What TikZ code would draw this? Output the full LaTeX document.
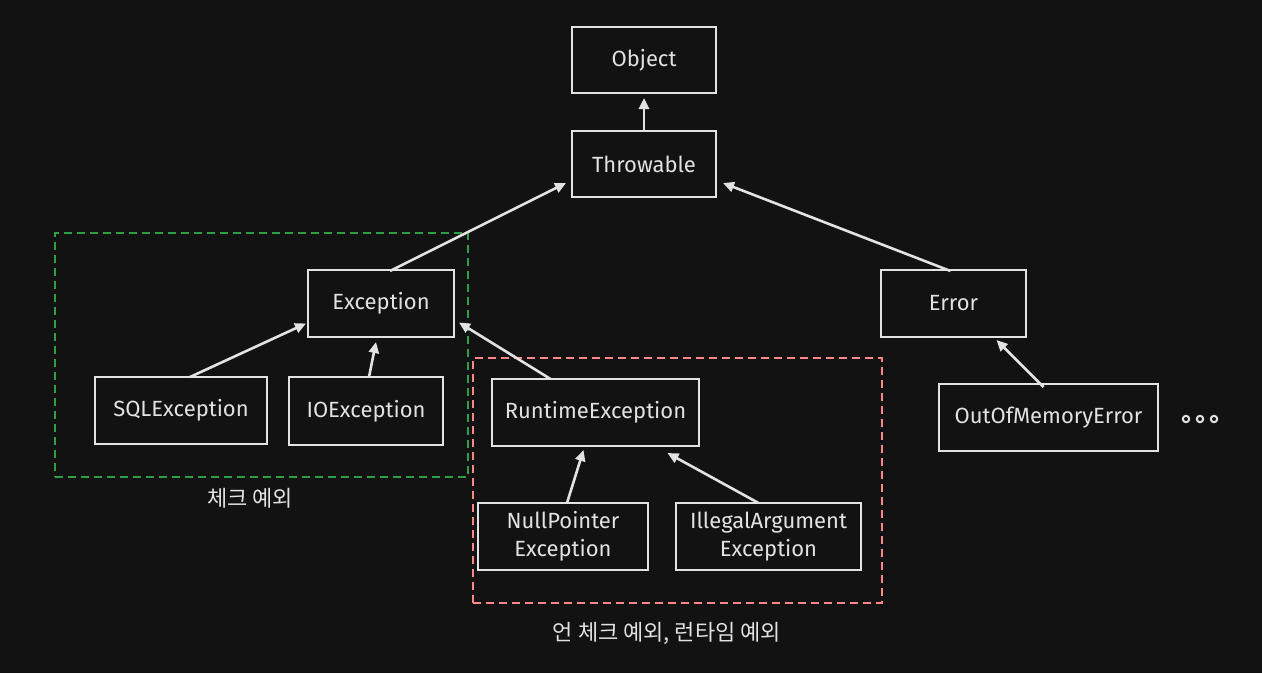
\documentclass[tikz,border=0pt]{standalone}
\usepackage{fontspec}
\setmainfont{Fira Sans}
\newfontfamily\kofont{Noto Sans CJK KR}
\usetikzlibrary{arrows.meta}
\definecolor{bg}{HTML}{121212}
\definecolor{ink}{HTML}{E2E2E2}
\definecolor{grn}{HTML}{2F9E44}
\definecolor{rd}{HTML}{FF8787}
\tikzset{
  cls/.style={draw=ink, line width=2pt, fill=bg, text=ink, font=\fontsize{22}{28}\selectfont, align=center, inner sep=0pt},
  inh/.style={draw=ink, line width=2.6pt, -{Triangle[length=11pt,width=10pt]}},
  grp/.style={line width=2pt, dash pattern=on 8pt off 5pt},
  lbl/.style={text=ink, font=\kofont\fontsize{22}{26}\selectfont, inner sep=0pt}
}
\begin{document}
\begin{tikzpicture}[x=1pt,y=-1pt]
\fill[bg] (0,0) rectangle (1262,673);
\useasboundingbox (0,0) rectangle (1262,673);
% groups
\node[draw=grn, grp, minimum width=413pt, minimum height=244pt, inner sep=0pt] (checked) at (261.5,355) {};
\node[draw=rd, grp, minimum width=409pt, minimum height=245pt, inner sep=0pt] (unchecked) at (677.5,480.5) {};
% classes
\node[cls, minimum width=144pt, minimum height=66pt] (obj) at (644,60) {Object};
\node[cls, minimum width=144pt, minimum height=66pt] (thr) at (644,164) {Throwable};
\node[cls, minimum width=146pt, minimum height=67pt] (exc) at (381,303.5) {Exception};
\node[cls, minimum width=145pt, minimum height=67pt] (err) at (953.5,303.5) {Error};
\node[cls, minimum width=172pt, minimum height=67pt] (sql) at (181,410.5) {SQLException};
\node[cls, minimum width=154pt, minimum height=68pt] (io) at (366,411) {IOException};
\node[cls, minimum width=207pt, minimum height=67pt] (rt) at (595.5,412.5) {RuntimeException};
\node[cls, minimum width=170pt, minimum height=67pt] (npe) at (563,536.5) {NullPointer\\Exception};
\node[cls, minimum width=185pt, minimum height=67pt] (iae) at (768.5,536.5) {IllegalArgument\\Exception};
\node[cls, minimum width=219pt, minimum height=67pt] (oom) at (1048.5,417.5) {OutOfMemoryError};
% dots
\foreach \i/\xx in {1/1186,2/1200,3/1214}{
  \coordinate (dot\i) at (\xx,419);
  \draw[ink, line width=2pt] (dot\i) circle (3.2pt);
}
% labels
\node[lbl] (lchk) at (250,498) {체크 예외};
\node[lbl] (lunchk) at (667,633) {언 체크 예외, 런타임 예외};
% arrows
\draw[inh] ([yshift=-2pt]thr.north) -- ([yshift=-4pt]obj.south);
\draw[inh] ([xshift=9pt,yshift=-2pt]exc.north) -- ([xshift=-5pt,yshift=-19pt]thr.west);
\draw[inh] ([xshift=-3pt,yshift=-2pt]err.north) -- ([xshift=6pt,yshift=-19pt]thr.east);
\draw[inh] ([xshift=9pt,yshift=-1pt]sql.north) -- ([xshift=-1pt,yshift=-20pt]exc.west);
\draw[inh] ([xshift=3pt,yshift=-1pt]io.north) -- ([xshift=-5pt,yshift=-4pt]exc.south);
\draw[inh] ([xshift=-45pt,yshift=-1pt]rt.north) -- ([xshift=4pt,yshift=-19pt]exc.east);
\draw[inh] ([xshift=4pt,yshift=-1pt]npe.north) -- ([xshift=-12pt,yshift=-3pt]rt.south);
\draw[inh] ([xshift=-10pt,yshift=-1pt]iae.north) -- ([xshift=72pt,yshift=-6pt]rt.south);
\draw[inh] ([xshift=-5pt,yshift=-4pt]oom.north) -- ([xshift=43pt,yshift=-2pt]err.south);
\end{tikzpicture}
\end{document}
